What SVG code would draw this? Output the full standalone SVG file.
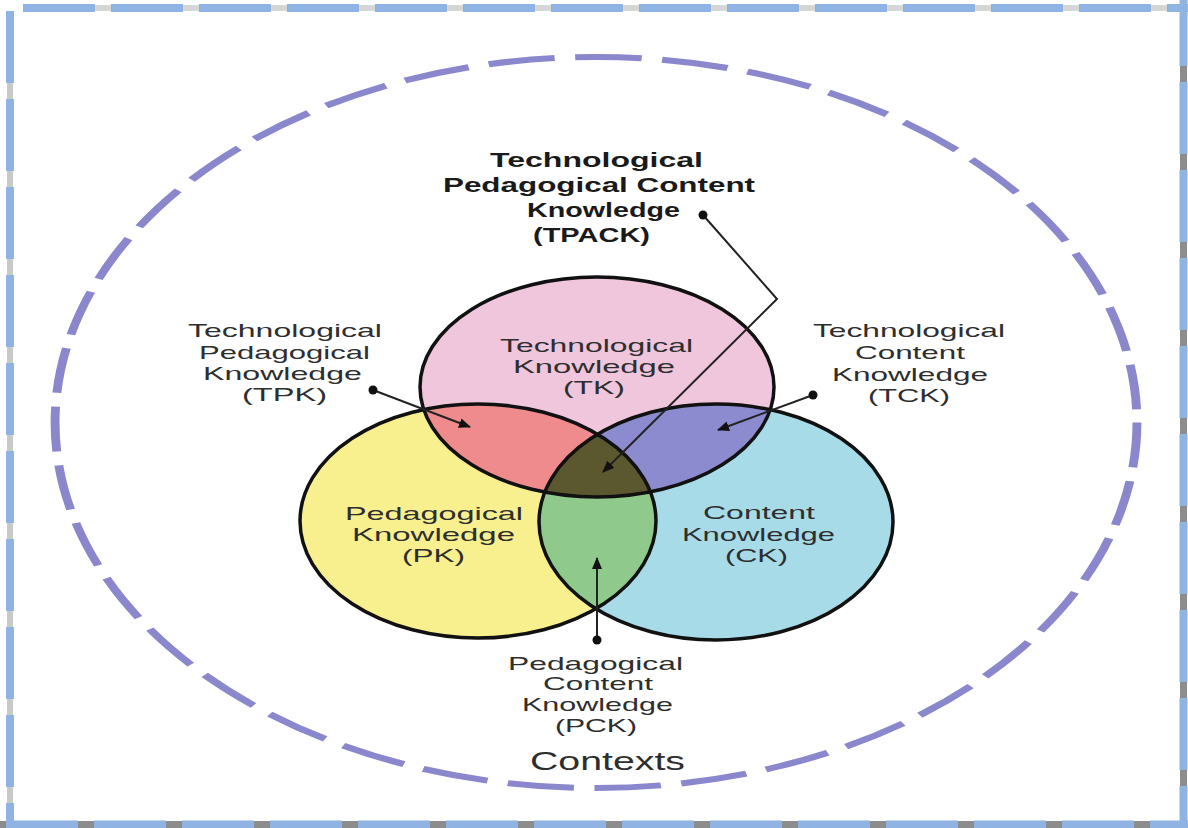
<svg xmlns="http://www.w3.org/2000/svg" width="1188" height="828" viewBox="0 0 1188 828">
<style>
.lbl{font-family:"Liberation Sans",Arial,sans-serif;font-size:19px;fill:#2e2e2e;}
.ttl{font-family:"Liberation Sans",Arial,sans-serif;font-size:21px;font-weight:bold;fill:#1a1a1a;}
.ring{fill:none;stroke:#111;stroke-width:3.5;}
.conn{fill:none;stroke:#222;stroke-width:2;}
.bdr{fill:none;stroke:#8fb3e3;stroke-width:8;stroke-dasharray:72 16;}
</style>
<defs>
<clipPath id="clipPink"><ellipse cx="597" cy="387" rx="177" ry="110"/></clipPath>
<clipPath id="clipYellow"><ellipse cx="478" cy="521" rx="178" ry="117"/></clipPath>
<marker id="arr" viewBox="0 0 12 10" refX="11" refY="5" markerWidth="12" markerHeight="10" markerUnits="userSpaceOnUse" orient="auto">
<path d="M0,0 L12,5 L0,10 z" fill="#111"/>
</marker>
<marker id="dot" viewBox="0 0 10 10" refX="5" refY="5" markerWidth="10" markerHeight="10" markerUnits="userSpaceOnUse">
<circle cx="5" cy="5" r="4.5" fill="#111"/>
</marker>
</defs>
<rect x="0" y="0" width="1188" height="828" fill="#ffffff"/>
<g id="border">
<line x1="23" y1="8" x2="1188" y2="8" stroke="#d6d6d6" stroke-width="6"/>
<line x1="10" y1="11" x2="10" y2="828" stroke="#c8c8c8" stroke-width="6"/>
<line x1="0" y1="824.5" x2="1188" y2="824.5" stroke="#8c8c8c" stroke-width="7"/>
<line x1="1183.5" y1="0" x2="1183.5" y2="828" stroke="#8c8c8c" stroke-width="7"/>
<line class="bdr" x1="23" y1="8" x2="1188" y2="8"/>
<line class="bdr" x1="10" y1="11" x2="10" y2="828"/>
<line class="bdr" x1="6" y1="824.5" x2="1188" y2="824.5"/>
<line class="bdr" x1="1183.5" y1="-6" x2="1183.5" y2="828"/>
</g>
<g id="contexts">
<circle cx="0" cy="0" r="365.5" transform="translate(596 422.5) scale(1.48 1)" fill="none" stroke="#8a87cc" stroke-width="6" stroke-dasharray="45 13.9"/>
<text class="lbl" x="530" y="770" style="font-size:25px" textLength="155" lengthAdjust="spacingAndGlyphs">Contexts</text>
</g>
<g id="node-tk">
<ellipse cx="597" cy="387" rx="177" ry="110" fill="#efc6dc"/>
</g>
<g id="node-pk">
<ellipse cx="478" cy="521" rx="178" ry="117" fill="#f8f08f"/>
</g>
<g id="node-ck">
<ellipse cx="716" cy="522" rx="177" ry="118" fill="#a7dbe8"/>
</g>
<g id="node-tpk"><ellipse cx="478" cy="521" rx="178" ry="117" fill="#ef8b8d" clip-path="url(#clipPink)"/></g>
<g id="node-tck"><ellipse cx="716" cy="522" rx="177" ry="118" fill="#8c8bcf" clip-path="url(#clipPink)"/></g>
<g id="node-pck"><ellipse cx="716" cy="522" rx="177" ry="118" fill="#8fc98c" clip-path="url(#clipYellow)"/></g>
<g id="node-tpack"><g clip-path="url(#clipYellow)"><ellipse cx="716" cy="522" rx="177" ry="118" fill="#5b5830" clip-path="url(#clipPink)"/></g></g>
<g id="outlines">
<ellipse class="ring" cx="597" cy="387" rx="177" ry="110"/>
<ellipse class="ring" cx="478" cy="521" rx="178" ry="117"/>
<ellipse class="ring" cx="716" cy="522" rx="177" ry="118"/>
</g>
<g id="labels-inner">
<text class="lbl" x="500" y="352" textLength="193" lengthAdjust="spacingAndGlyphs">Technological</text>
<text class="lbl" x="513" y="373" textLength="162" lengthAdjust="spacingAndGlyphs">Knowledge</text>
<text class="lbl" x="563" y="394" textLength="62" lengthAdjust="spacingAndGlyphs">(TK)</text>
<text class="lbl" x="345" y="520" textLength="178" lengthAdjust="spacingAndGlyphs">Pedagogical</text>
<text class="lbl" x="352" y="541" textLength="163" lengthAdjust="spacingAndGlyphs">Knowledge</text>
<text class="lbl" x="402" y="562" textLength="63" lengthAdjust="spacingAndGlyphs">(PK)</text>
<text class="lbl" x="703" y="519" textLength="112" lengthAdjust="spacingAndGlyphs">Content</text>
<text class="lbl" x="682" y="541" textLength="153" lengthAdjust="spacingAndGlyphs">Knowledge</text>
<text class="lbl" x="725" y="562" textLength="63" lengthAdjust="spacingAndGlyphs">(CK)</text>
</g>
<g id="label-tpack">
<text class="ttl" x="490" y="167" textLength="213" lengthAdjust="spacingAndGlyphs">Technological</text>
<text class="ttl" x="443" y="192" textLength="312" lengthAdjust="spacingAndGlyphs">Pedagogical Content</text>
<text class="ttl" x="527" y="217" textLength="153" lengthAdjust="spacingAndGlyphs">Knowledge</text>
<text class="ttl" x="533" y="242" textLength="117" lengthAdjust="spacingAndGlyphs">(TPACK)</text>
</g>
<g id="label-tpk">
<text class="lbl" x="188" y="337" textLength="194" lengthAdjust="spacingAndGlyphs">Technological</text>
<text class="lbl" x="199" y="359" textLength="171" lengthAdjust="spacingAndGlyphs">Pedagogical</text>
<text class="lbl" x="203" y="380" textLength="159" lengthAdjust="spacingAndGlyphs">Knowledge</text>
<text class="lbl" x="242" y="401" textLength="85" lengthAdjust="spacingAndGlyphs">(TPK)</text>
</g>
<g id="label-tck">
<text class="lbl" x="813" y="337" textLength="192" lengthAdjust="spacingAndGlyphs">Technological</text>
<text class="lbl" x="855" y="359" textLength="110" lengthAdjust="spacingAndGlyphs">Content</text>
<text class="lbl" x="832" y="381" textLength="156" lengthAdjust="spacingAndGlyphs">Knowledge</text>
<text class="lbl" x="868" y="402" textLength="82" lengthAdjust="spacingAndGlyphs">(TCK)</text>
</g>
<g id="label-pck">
<text class="lbl" x="508" y="670" textLength="175" lengthAdjust="spacingAndGlyphs">Pedagogical</text>
<text class="lbl" x="543" y="690" textLength="110" lengthAdjust="spacingAndGlyphs">Content</text>
<text class="lbl" x="522" y="711" textLength="151" lengthAdjust="spacingAndGlyphs">Knowledge</text>
<text class="lbl" x="555" y="732" textLength="82" lengthAdjust="spacingAndGlyphs">(PCK)</text>
</g>
<g id="connectors">
<polyline class="conn" points="703,215 777,299 603,472" marker-start="url(#dot)" marker-end="url(#arr)"/>
<line class="conn" x1="373" y1="390" x2="470" y2="427" marker-start="url(#dot)" marker-end="url(#arr)"/>
<line class="conn" x1="813" y1="395" x2="718" y2="430" marker-start="url(#dot)" marker-end="url(#arr)"/>
<line class="conn" x1="597" y1="640" x2="597" y2="558" marker-start="url(#dot)" marker-end="url(#arr)"/>
</g>
</svg>
